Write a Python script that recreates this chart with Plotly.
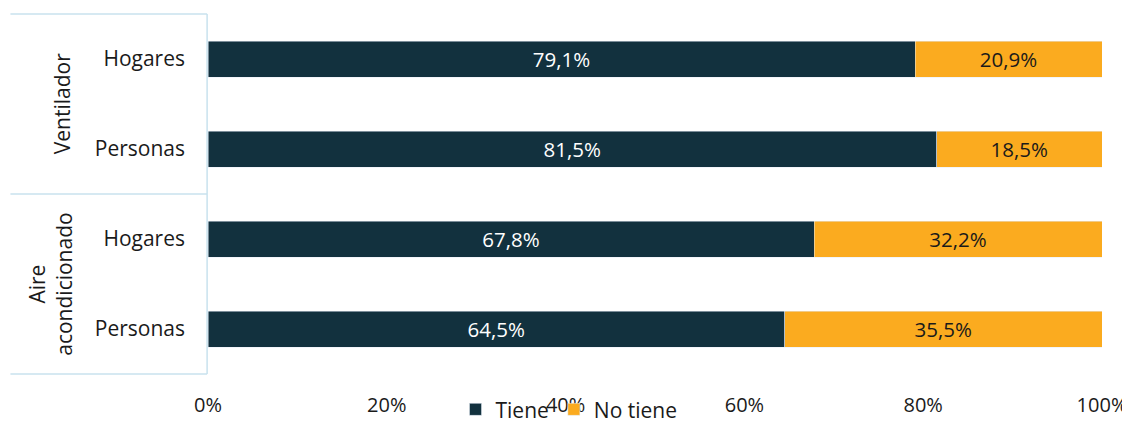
import plotly.graph_objects as go

categories = ["Hogares", "Personas", "Hogares", "Personas"]
groups = ["Ventilador", "Aire<br>acondicionado"]
tiene = [79.1, 81.5, 67.8, 64.5]
no_tiene = [20.9, 18.5, 32.2, 35.5]
x_ticks = [0, 20, 40, 60, 80, 100]
x_tick_labels = ["0%", "20%", "40%", "60%", "80%", "100%"]

DARK = "#12313e"
ORANGE = "#fbab1f"
LINE = "#c9e2ee"
FONT = "Open Sans"
TXT = "#1a1a1a"

pos = list(range(len(categories)))

def fmt(v):
    return f"{v:.1f}%".replace(".", ",")

fig = go.Figure()
fig.add_trace(go.Bar(
    y=pos, x=tiene, orientation="h", name="Tiene", marker_color=DARK,
    text=[fmt(v) for v in tiene], textposition="inside", insidetextanchor="middle",
    textfont=dict(color="white", size=20.5, family=FONT), width=0.4,
))
fig.add_trace(go.Bar(
    y=pos, x=no_tiene, orientation="h", name="No tiene", marker_color=ORANGE,
    text=[fmt(v) for v in no_tiene], textposition="inside", insidetextanchor="middle",
    textfont=dict(color=TXT, size=20.5, family=FONT), width=0.4,
))

shapes = []
for yv in [1.0, 0.5, 0.0]:
    shapes.append(dict(type="line", xref="paper", yref="paper", x0=-0.221, x1=-0.001,
                       y0=yv, y1=yv, line=dict(color=LINE, width=1.5)))
shapes.append(dict(type="line", xref="paper", yref="paper", x0=-0.001, x1=-0.001,
                   y0=0, y1=1, line=dict(color=LINE, width=1.5)))

annotations = [
    dict(text=groups[0], xref="paper", yref="paper", x=-0.163, y=0.75, showarrow=False,
         xanchor="center", yanchor="middle",
         textangle=-90, font=dict(size=21, family=FONT, color=TXT)),
    dict(text=groups[1], xref="paper", yref="paper", x=-0.177, y=0.25, showarrow=False,
         xanchor="center", yanchor="middle",
         textangle=-90, font=dict(size=21, family=FONT, color=TXT)),
]

fig.update_layout(
    barmode="stack",
    width=1122, height=415,
    margin=dict(l=200, r=28, t=6, b=49, autoexpand=False),
    paper_bgcolor="white", plot_bgcolor="white",
    font=dict(family=FONT, size=20, color=TXT),
    shapes=shapes, annotations=annotations,
    legend=dict(orientation="h", xref="container", yref="container",
                x=0.500, xanchor="center", y=0.032, yanchor="middle",
                font=dict(size=21, family=FONT), itemwidth=30, traceorder="normal",
                bgcolor="rgba(0,0,0,0)"),
    xaxis=dict(range=[0, 100], tickvals=x_ticks, ticktext=x_tick_labels, showgrid=False,
               zeroline=False, showline=False, ticks="", ticklabelstandoff=17,
               automargin=False, tickfont=dict(size=20, family=FONT)),
    yaxis=dict(tickvals=pos, ticktext=categories, range=[3.5, -0.5], showgrid=False,
               zeroline=False, showline=False, ticks="", ticklabelstandoff=22,
               automargin=False, tickfont=dict(size=21, family=FONT)),
)

fig.write_html("out.html")
